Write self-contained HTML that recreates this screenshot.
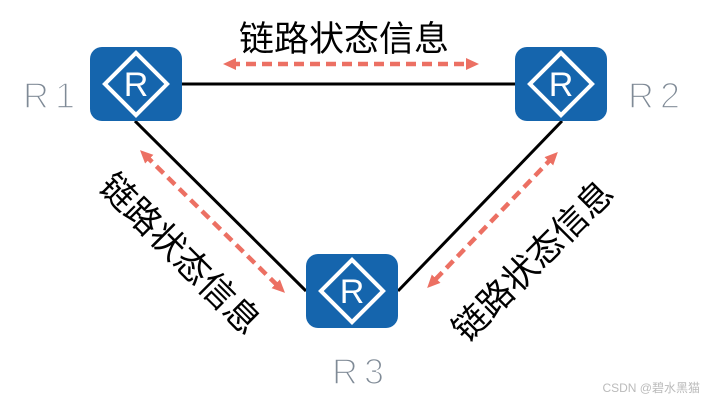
<!DOCTYPE html>
<html><head><meta charset="utf-8"><style>
html,body{margin:0;padding:0;background:#fff;}
svg{display:block;}
</style></head><body>
<svg width="713" height="402" viewBox="0 0 713 402" xmlns="http://www.w3.org/2000/svg">
<defs>
<marker id="ah" markerWidth="14" markerHeight="14" refX="6" refY="6" orient="auto-start-reverse" markerUnits="userSpaceOnUse">
<path d="M0,0 L13,6 L0,12 Z" fill="#ec7063"/>
</marker>
<g id="router">
<rect x="0" y="0" width="92" height="74" rx="12" fill="#1565ad"/>
<rect x="24" y="15" width="44" height="44" fill="none" stroke="#fff" stroke-width="4" transform="rotate(45 46 37)"/>
<text x="46" y="49" font-family="Liberation Sans, sans-serif" font-size="34" fill="#fff" text-anchor="middle">R</text>
</g>
</defs>
<g stroke="#000" stroke-width="3">
<line x1="182" y1="84" x2="515" y2="84"/>
<line x1="135" y1="121" x2="306" y2="291"/>
<line x1="562" y1="121" x2="398" y2="291"/>
</g>
<g stroke="#ec7063" stroke-width="4.5" stroke-dasharray="10,6" fill="none">
<line x1="230" y1="64" x2="472" y2="64" marker-start="url(#ah)" marker-end="url(#ah)"/>
<line x1="145" y1="155" x2="280" y2="288" marker-start="url(#ah)" marker-end="url(#ah)"/>
<line x1="553" y1="157" x2="432" y2="283" marker-start="url(#ah)" marker-end="url(#ah)"/>
</g>
<use href="#router" x="90" y="47"/>
<use href="#router" x="515" y="47"/>
<use href="#router" x="306" y="254"/>
<g font-family="Liberation Sans, 'Noto Sans CJK SC', sans-serif" font-size="35" fill="#000" text-anchor="middle">
<text x="344" y="51">链路状态信息</text>
<text x="0" y="0" transform="translate(180,254) rotate(45)" dy="12">链路状态信息</text>
<text x="0" y="0" transform="translate(533,261) rotate(-45)" dy="12">链路状态信息</text>
</g>
<g font-family="Liberation Sans, sans-serif" font-size="36" fill="#7f8a96" stroke="#fff" stroke-width="1.6" text-anchor="middle" style="letter-spacing:6px">
<text x="52" y="108">R1</text>
<text x="657" y="108">R2</text>
<text x="361" y="384">R3</text>
</g>
<text x="700" y="392" font-family="Liberation Sans, 'Noto Sans CJK SC', sans-serif" font-size="12" fill="#bbb" text-anchor="end">CSDN @碧水黑猫</text>
</svg>
</body></html>
